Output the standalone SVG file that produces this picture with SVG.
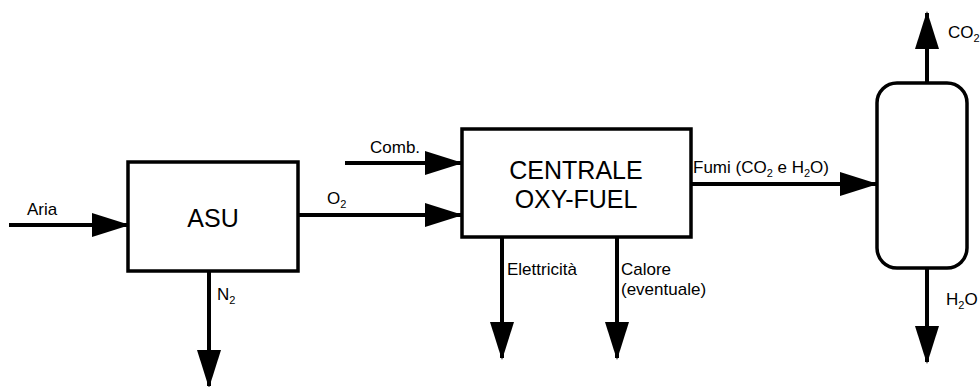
<svg xmlns="http://www.w3.org/2000/svg" width="980" height="387" viewBox="0 0 980 387">
<style>
.box{fill:#fff;stroke:#000;stroke-width:3.5}
.ln{stroke:#000;stroke-width:4;fill:none;marker-end:url(#ah)}
.lbl{font-family:"Liberation Sans",Arial,sans-serif;font-size:17px;fill:#000}
.ttl{font-family:"Liberation Sans",Arial,sans-serif;font-size:25px;fill:#000;text-anchor:middle}
.sub{font-size:11px}
</style>
<defs>
<marker id="ah" markerUnits="userSpaceOnUse" markerWidth="38" markerHeight="24" refX="36" refY="12" orient="auto">
<path d="M0,0 L38,12 L0,24 Z" fill="#000"/>
</marker>
</defs>
<rect width="980" height="387" fill="#fff"/>
<g id="connectors">
<line class="ln" x1="9" y1="225" x2="128" y2="225"/>
<line class="ln" x1="298" y1="215" x2="461" y2="215"/>
<line class="ln" x1="345" y1="163" x2="461" y2="163"/>
<line class="ln" x1="209" y1="271" x2="209" y2="386"/>
<line class="ln" x1="502" y1="237" x2="502" y2="358"/>
<line class="ln" x1="617" y1="237" x2="617" y2="358"/>
<line class="ln" x1="691" y1="184" x2="876" y2="184"/>
<line class="ln" x1="927" y1="83" x2="927" y2="13"/>
<line class="ln" x1="927" y1="268" x2="927" y2="362"/>
</g>
<g id="labels">
<text class="lbl" x="27" y="215">Aria</text>
<text class="lbl" x="327" y="204">O<tspan class="sub" dy="4">2</tspan></text>
<text class="lbl" x="370" y="153">Comb.</text>
<text class="lbl" x="217" y="300">N<tspan class="sub" dy="4">2</tspan></text>
<text class="lbl" x="507" y="275">Elettricità</text>
<text class="lbl" x="621" y="275">Calore</text>
<text class="lbl" x="621" y="295">(eventuale)</text>
<text class="lbl" x="693" y="173">Fumi (CO<tspan class="sub" dy="4">2</tspan><tspan dy="-4"> e H</tspan><tspan class="sub" dy="4">2</tspan><tspan dy="-4">O)</tspan></text>
<text class="lbl" x="948" y="38">CO<tspan class="sub" dy="4">2</tspan></text>
<text class="lbl" x="946" y="305">H<tspan class="sub" dy="4">2</tspan><tspan dy="-4">O</tspan></text>
</g>
<g id="asu">
<rect class="box" x="128" y="162" width="170" height="109"/>
<text class="ttl" x="213" y="227">ASU</text>
</g>
<g id="centrale">
<rect class="box" x="462" y="129" width="229" height="108"/>
<text class="ttl" x="576" y="179">CENTRALE</text>
<text class="ttl" x="576" y="208">OXY-FUEL</text>
</g>
<g id="colonna">
<rect class="box" x="877" y="83" width="90" height="185" rx="20" ry="20"/>
</g>
</svg>
